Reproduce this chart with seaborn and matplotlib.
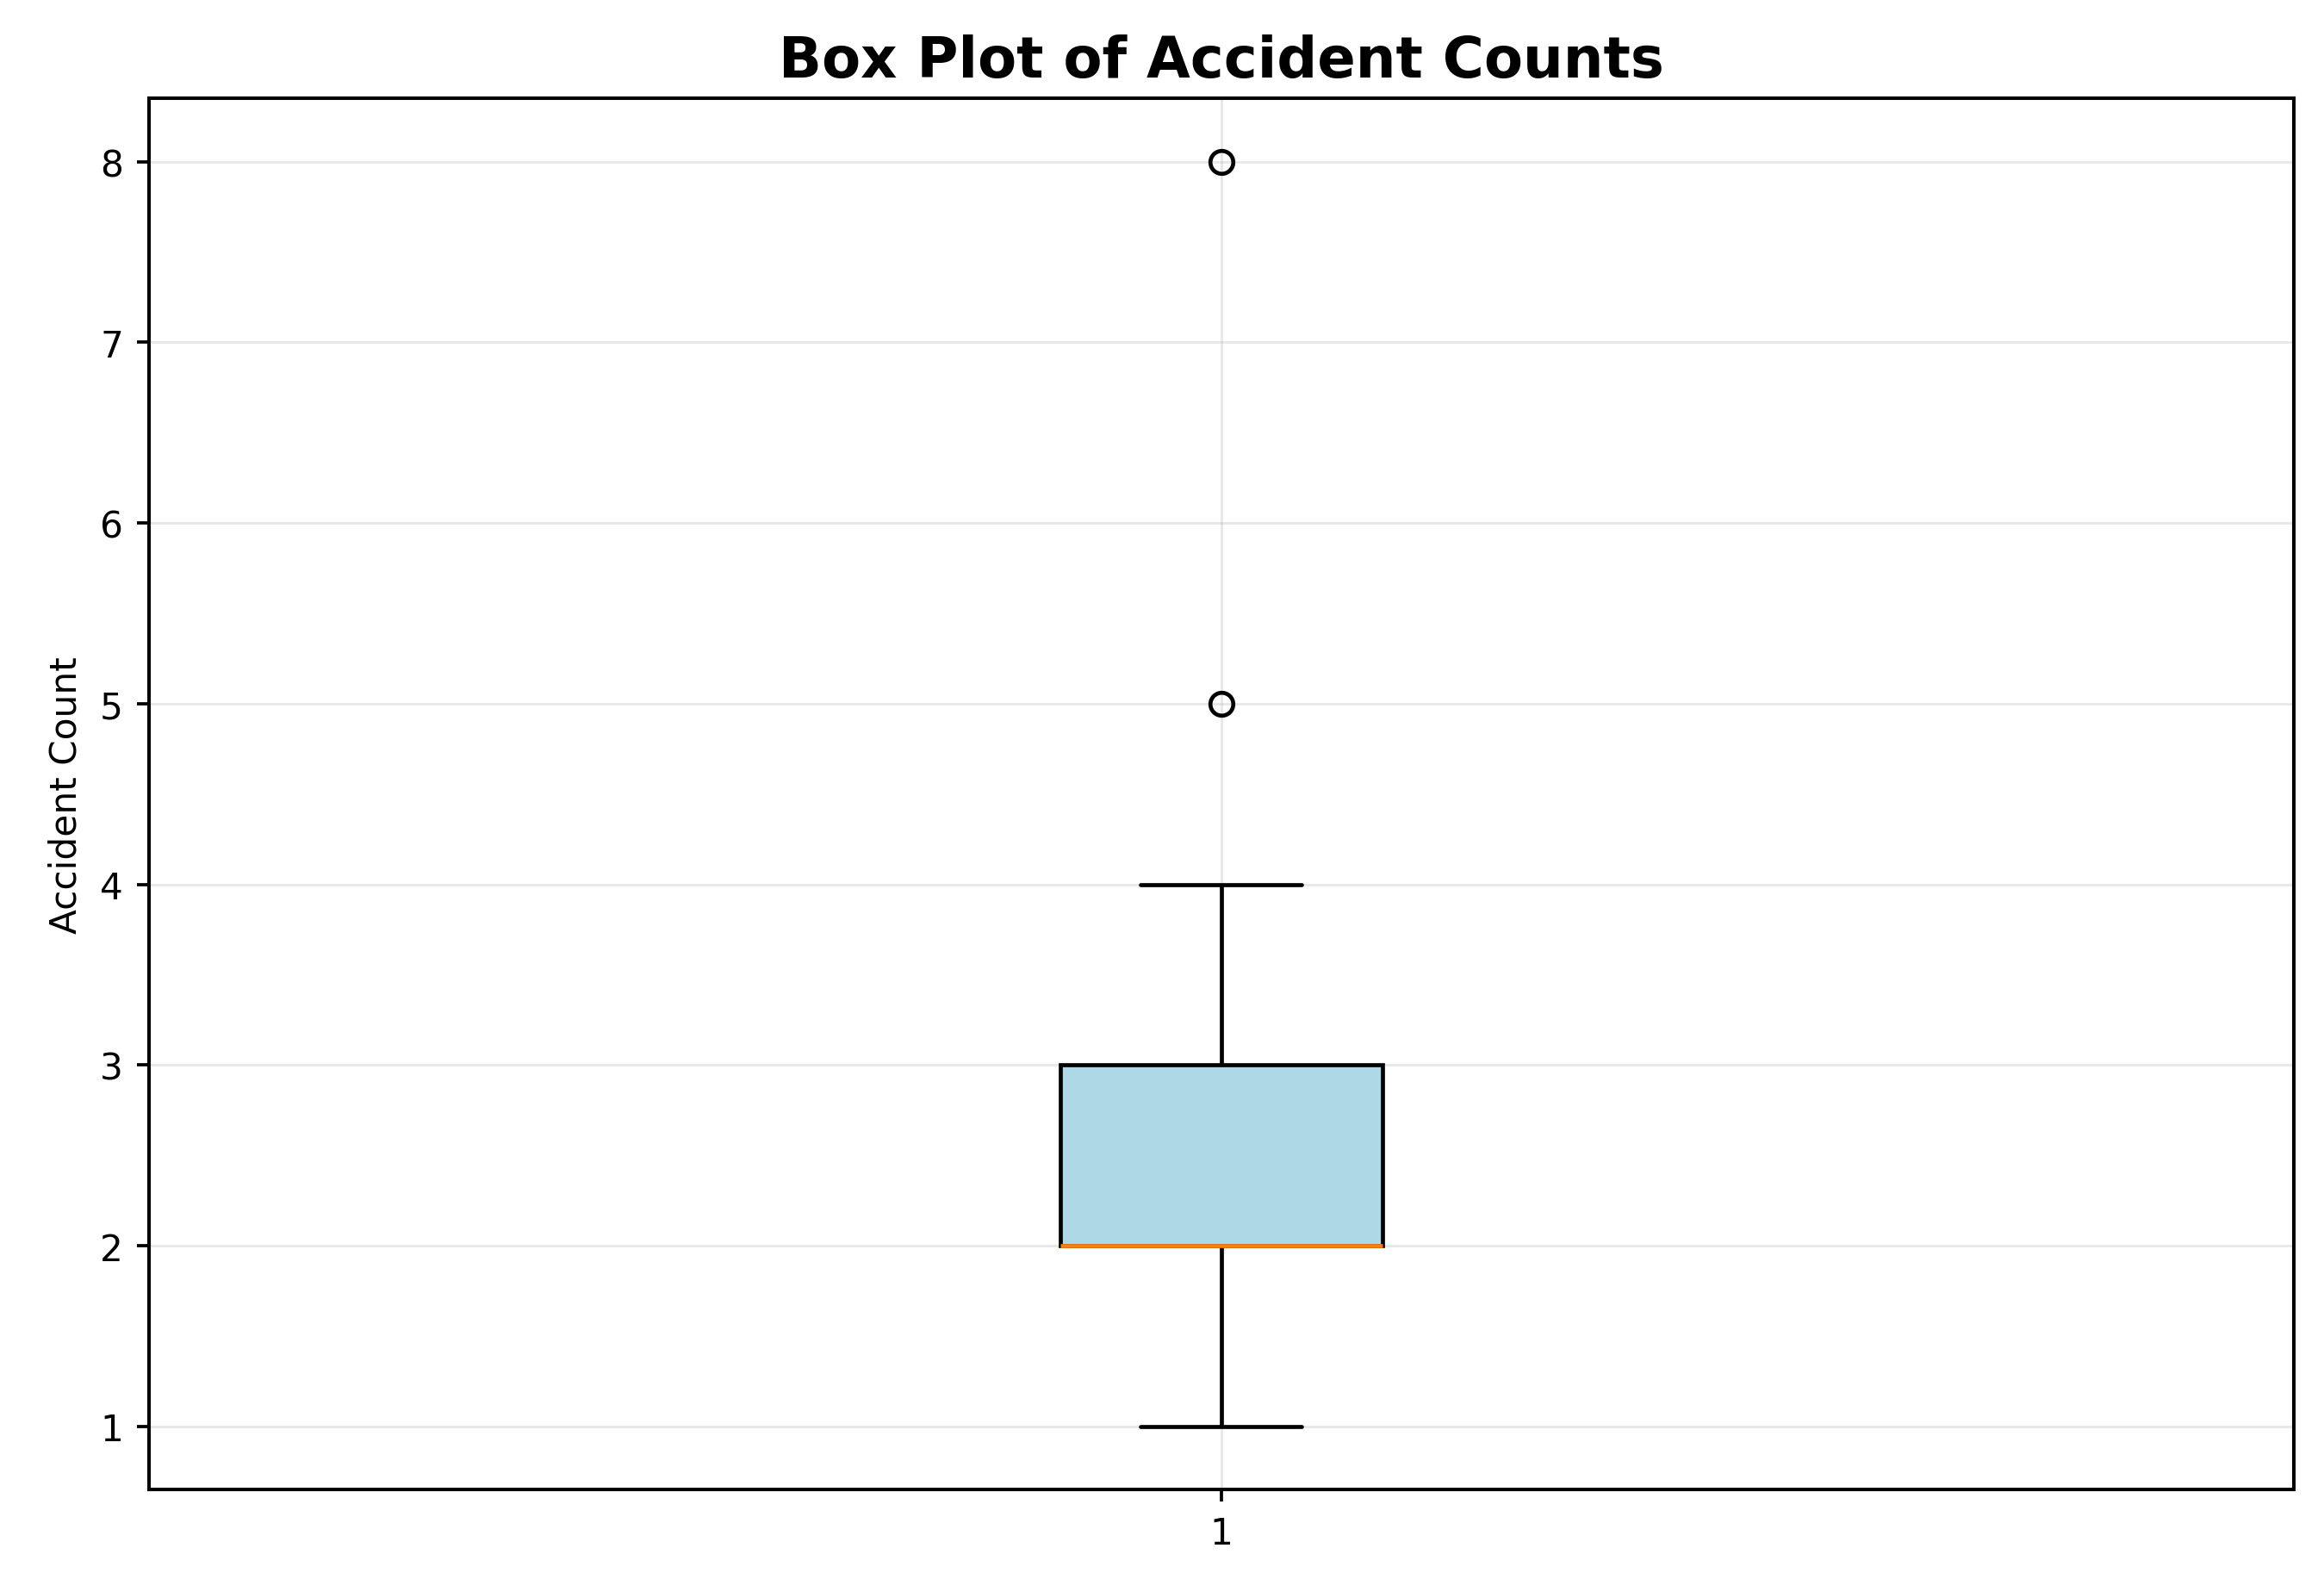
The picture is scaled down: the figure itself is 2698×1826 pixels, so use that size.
import pandas as pd
import seaborn as sns
import matplotlib
matplotlib.use("Agg")
import matplotlib.pyplot as plt

# accident counts per record (quartiles 2/2/3, whiskers 1..4, outliers 5 and 8)
accident_counts = [1, 1, 2, 2, 2, 2, 2, 3, 3, 3, 4, 5, 8]
group_labels = ["1"] * len(accident_counts)

df = pd.DataFrame({"group": group_labels, "count": accident_counts})

sns.set_style("white")
plt.rcParams["font.family"] = ["DejaVu Sans"]
plt.rcParams["text.color"] = "black"
plt.rcParams["axes.labelcolor"] = "black"
plt.rcParams["xtick.color"] = "black"
plt.rcParams["ytick.color"] = "black"

fig, ax = plt.subplots(figsize=(2698 / 225, 1827 / 225), dpi=225)

sns.boxplot(
    data=df, x="group", y="count", ax=ax,
    color="lightblue", saturation=1, width=0.15, linecolor="black", linewidth=1.5,
    medianprops={"color": "#ff7f0e", "linewidth": 1.5},
    flierprops={"marker": "o", "markerfacecolor": "none", "markeredgecolor": "black",
                "markersize": 8.5, "markeredgewidth": 1.5},
)

ax.set_title("Box Plot of Accident Counts", fontsize=21, fontweight="bold", pad=8, color="black")
ax.set_xlabel("")
ax.set_ylabel("Accident Count", fontsize=13.5, labelpad=6)
ax.tick_params(axis="both", labelsize=13.5, length=4.5, width=1.2, direction="out", pad=5,
               left=True, bottom=True)
ax.grid(True, color="#b0b0b0", alpha=0.3, linewidth=0.9)
ax.set_axisbelow(True)
for sp in ax.spines.values():
    sp.set_visible(True)
    sp.set_color("black")
    sp.set_linewidth(1.3)

plt.subplots_adjust(left=0.064, right=0.987, top=0.937, bottom=0.053)
plt.savefig("out.png", dpi=225)
